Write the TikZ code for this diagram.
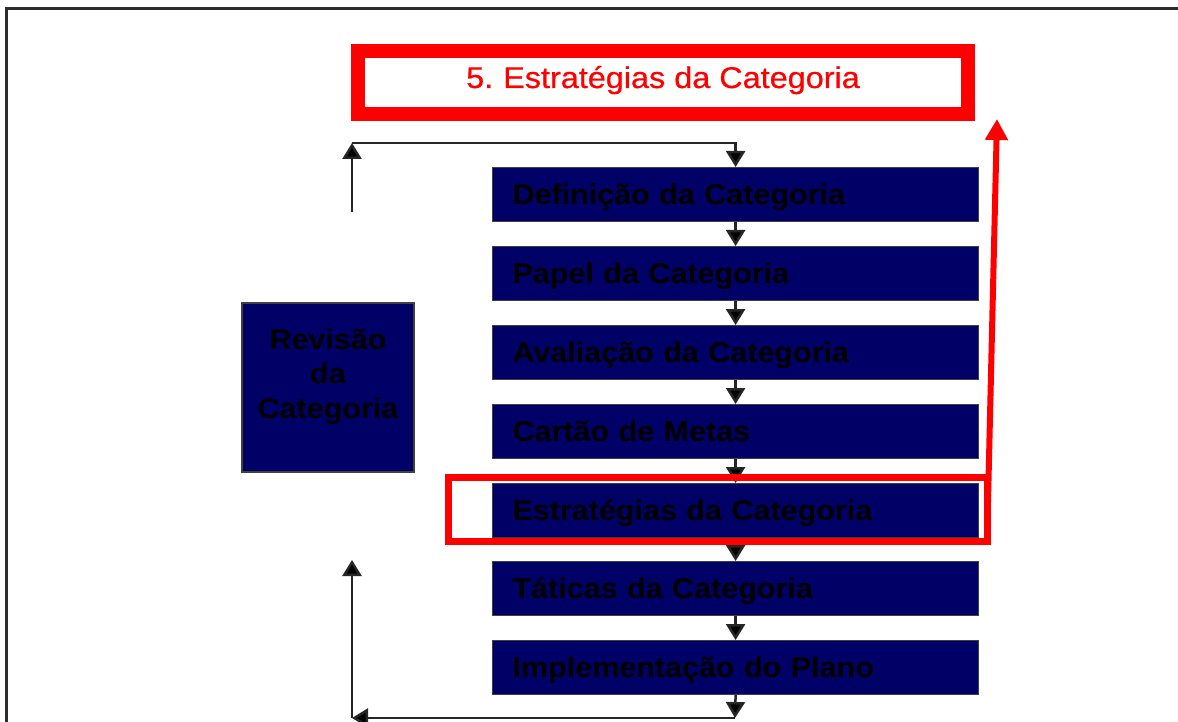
\documentclass[tikz,border=0pt]{standalone}
\usepackage{fontspec}
\setmainfont{Liberation Sans}
\newfontfamily\boxfont[FakeStretch=1.07]{Liberation Sans}
\newfontfamily\titlefont[FakeStretch=1.08,FakeBold=0.6]{Liberation Sans}
\usetikzlibrary{arrows.meta}
\definecolor{navy}{RGB}{0,0,102}
\definecolor{framegray}{RGB}{45,45,45}
\begin{document}
\begin{tikzpicture}[x=1pt,y=-1pt,
  stepbox/.style={draw=black!75, line width=1.2pt, fill=navy, anchor=north west,
    minimum width=486pt, minimum height=54pt, text width=446pt, inner xsep=20pt,
    inner ysep=0pt, align=left, text height=20pt, text depth=0pt,
    font=\boxfont\bfseries\fontsize{28.5}{34.5}\selectfont},
  revbox/.style={draw=black!75, line width=1.2pt, fill=navy, minimum width=172pt,
    minimum height=169pt, text width=170pt, inner sep=0pt, align=center,
    text height=21pt, text depth=98pt,
    font=\boxfont\bfseries\fontsize{28.5}{34.5}\selectfont},
  titlebox/.style={draw=red, line width=14pt, minimum width=610pt, minimum height=63pt,
    inner sep=0pt, text=red, text height=21pt, text depth=10pt,
    font=\titlefont\fontsize{30}{36}\selectfont},
  highlight/.style={draw=red, line width=7pt, minimum width=539pt, minimum height=64pt,
    inner sep=0pt, outer sep=0pt},
  flow/.style={line width=2.5pt, draw=black!85, -{Triangle[width=19pt,length=16pt,fill=black]}},
  redflow/.style={line width=6pt, draw=red, -{Triangle[width=22pt,length=21pt]}},
  frame/.style={line width=3pt, draw=framegray}
]
\useasboundingbox (0,0) rectangle (1178,722);
\draw[frame] (6,722) -- (6,9) -- (1178,9);

\node[titlebox] (title) at (663,82.5) {5.\hspace{-2pt} Estratégias da Categoria};

\node[stepbox] (d1) at (492,167) {Definição da Categoria};
\node[stepbox] (d2) at (492,246) {Papel da Categoria};
\node[stepbox] (d3) at (492,325) {Avaliação da Categoria};
\node[stepbox] (d4) at (492,404) {Cartão de Metas};
\node[stepbox] (d5) at (492,483) {Estratégias da Categoria};
\node[stepbox] (d6) at (492,561) {Táticas da Categoria};
\node[stepbox] (d7) at (492,640) {Implementação do Plano};

\node[revbox] (rev) at (328,387.5) {Revisão\\da\\Categoria};

\draw[flow] (d1) -- (d2);
\draw[flow] (d2) -- (d3);
\draw[flow] (d3) -- (d4);
\draw[flow] (d4) -- (d5);
\draw[flow] (d5) -- (d6);
\draw[flow] (d6) -- (d7);

\coordinate (lt) at (352,143);
\coordinate (lb) at (352,212);
\draw[flow] (lb) -- (lt);
\draw[flow] (lt) -| (d1.north);

\coordinate (bm) at (735,718);
\coordinate (bl) at (352,718);
\coordinate (lu) at (352,560);
\draw[flow] (d7.south) -- (bm);
\draw[flow] (bm) -- (bl);
\draw[flow] (bl) -- (lu);

\node[highlight] (hl) at (717.5,509) {};
\coordinate (rtip) at (997,119);
\draw[redflow] ([yshift=-3pt]hl.south east) -- (rtip);
\end{tikzpicture}
\end{document}
